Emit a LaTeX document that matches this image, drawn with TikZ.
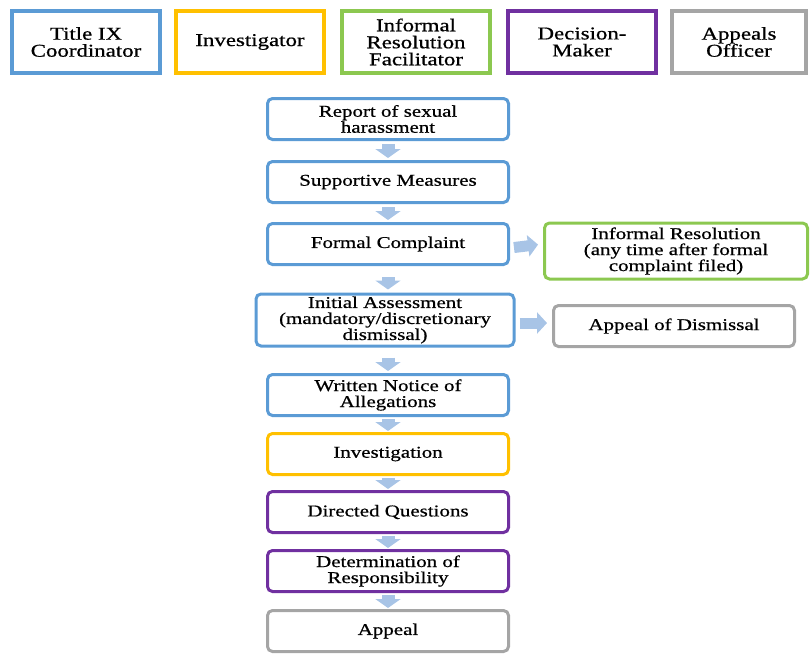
\documentclass[tikz,border=0pt]{standalone}
\usepackage{fontspec}
\setmainfont[FakeStretch=1.27,FakeBold=0.7]{Liberation Serif}
\usetikzlibrary{arrows.meta}
\usetikzlibrary{positioning, calc}

\definecolor{tixblue}{RGB}{91,155,213}
\definecolor{tixyellow}{RGB}{255,192,0}
\definecolor{tixgreen}{RGB}{140,200,80}
\definecolor{tixpurple}{RGB}{112,48,160}
\definecolor{tixgray}{RGB}{165,165,165}
\definecolor{flowarrow}{RGB}{168,196,230}

\tikzset{
  rolebox/.style={draw=#1, line width=4pt, minimum width=148pt, minimum height=62pt,
    inner sep=0pt, align=center, font=\fontsize{18}{17}\selectfont},
  stepbox/.style={draw=#1, line width=3pt, rounded corners=5pt, minimum width=241pt,
    minimum height=41pt, inner sep=0pt, align=center, font=\fontsize{16.5}{16}\selectfont},
  flow/.style={draw=flowarrow, line width=13pt, -{Triangle[width=25pt,length=9pt]}},
  sideflow/.style={draw=flowarrow, line width=11pt, -{Triangle[width=21pt,length=10pt]}},
}

\begin{document}
\begin{tikzpicture}[x=1pt,y=1pt]
  \useasboundingbox (0,0) rectangle (810,-654);

  % Roles
  \node[rolebox=tixblue]                    (coord) at (86,-42)  {Title IX\\Coordinator};
  \node[rolebox=tixyellow]                  (invr)  at (250,-42) {Investigator};
  \node[rolebox=tixgreen]                   (facil) at (416,-42) {Informal\\Resolution\\Facilitator};
  \node[rolebox=tixpurple]                  (dmkr)  at (582,-42) {Decision-\\Maker};
  \node[rolebox=tixgray,minimum width=134pt] (appof) at (739,-42) {Appeals\\Officer};

  % Process steps
  \node[stepbox=tixblue]   (report) at (388,-119) {Report of sexual\\harassment};
  \node[stepbox=tixblue]   (supp)   at (388,-182) {Supportive Measures};
  \node[stepbox=tixblue]   (formal) at (388,-244) {Formal Complaint};
  \node[stepbox=tixblue,minimum width=258pt,minimum height=52pt] (assess) at (385,-320)
    {Initial Assessment\\(mandatory/discretionary\\dismissal)};
  \node[stepbox=tixblue]   (notice) at (388,-395) {Written Notice of\\Allegations};
  \node[stepbox=tixyellow] (invest) at (388,-454) {Investigation};
  \node[stepbox=tixpurple] (quest)  at (388,-512) {Directed Questions};
  \node[stepbox=tixpurple] (determ) at (388,-571) {Determination of\\Responsibility};
  \node[stepbox=tixgray]   (appeal) at (388,-631) {Appeal};

  % Side branches
  \node[stepbox=tixgreen,minimum width=263pt,minimum height=56pt] (informal) at (676,-251)
    {Informal Resolution\\(any time after formal\\complaint filed)};
  \node[stepbox=tixgray,minimum width=241pt] (dismiss) at (674,-326) {Appeal of Dismissal};

  % Down the main line
  \draw[flow,shorten <=3pt,shorten >=2pt]  (report.south) -- (supp.north);
  \draw[flow,shorten <=3pt,shorten >=2pt]  (supp.south)   -- (formal.north);
  \draw[flow,shorten <=11pt,shorten >=3pt] (formal.south) -- ($(assess.north)+(3,0)$);
  \draw[flow,shorten <=10pt,shorten >=2pt] ($(assess.south)+(3,0)$) -- (notice.north);
  \draw[flow,shorten <=2pt,shorten >=1pt]  (notice.south) -- (invest.north);
  \draw[flow,shorten <=2pt,shorten >=1pt]  (invest.south) -- (quest.north);
  \draw[flow,shorten <=2pt,shorten >=1pt]  (quest.south)  -- (determ.north);
  \draw[flow,shorten <=2pt,shorten >=1pt]  (determ.south) -- (appeal.north);

  % Out to the side
  \draw[sideflow,shorten <=4pt,shorten >=5pt] ($(formal.east)+(0,-4)$) -- (formal.east -| informal.west);
  \draw[sideflow,shorten <=4pt,shorten >=5pt] ($(assess.east)+(0,-3)$) -- ($(assess.east -| dismiss.west)+(0,-3)$);
\end{tikzpicture}
\end{document}
